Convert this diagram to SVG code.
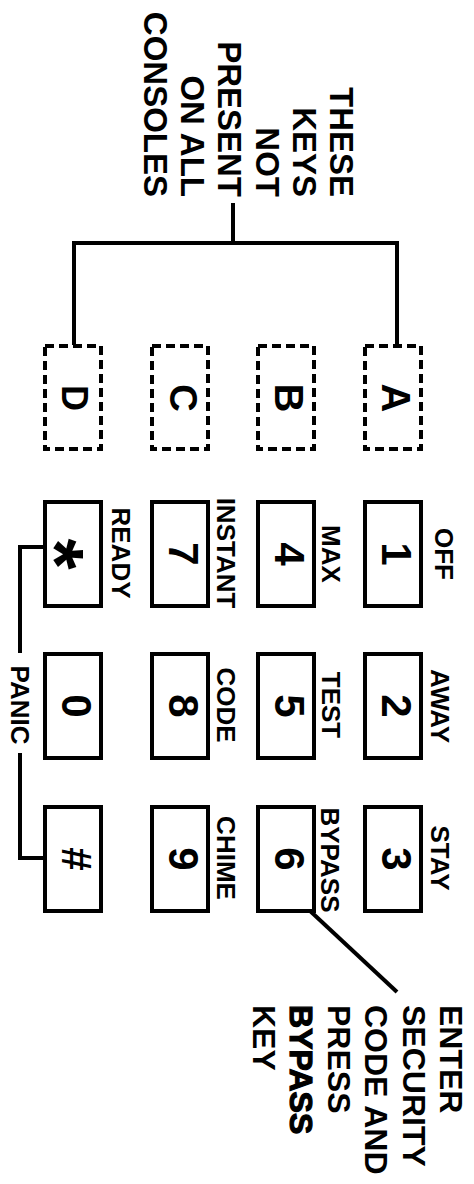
<svg xmlns="http://www.w3.org/2000/svg" width="474" height="1184" viewBox="0 0 474 1184">
<style>
text{font-family:"Liberation Sans",Arial,sans-serif;font-weight:bold;fill:#000}
.key{fill:#fff;stroke:#000;stroke-width:4}
.opt{fill:#fff;stroke:#000;stroke-width:4;stroke-dasharray:9 5}
.dig{font-size:42px;text-anchor:middle}
.lbl{font-size:26px;text-anchor:middle}
.ln{fill:none;stroke:#000;stroke-width:4}
</style>
<rect width="474" height="1184" fill="#fff"/>
<g id="connectors">
<path class="ln" d="M233,203 V243 M74,345 V243 H397 V345"/>
<path class="ln" d="M45,547 H20 V653 M20,753 V858 H45"/>
<text class="lbl" transform="translate(11,705) rotate(90)">PANIC</text>
<path class="ln" d="M293,895 L397,992"/>
</g>
<g id="note-top">
<text font-size="33" text-anchor="end" transform="translate(330,197) rotate(90)"><tspan x="0" y="0">THESE</tspan><tspan x="0" dy="37.2">KEYS</tspan><tspan x="0" dy="37.2">NOT</tspan><tspan x="0" dy="37.2">PRESENT</tspan><tspan x="0" dy="37.2">ON ALL</tspan><tspan x="0" dy="37.2">CONSOLES</tspan></text>
</g>
<g id="note-bottom">
<text font-size="32" transform="translate(440,1005) rotate(90)"><tspan x="0" y="0">ENTER</tspan><tspan x="0" dy="37.4">SECURITY</tspan><tspan x="0" dy="37.4">CODE AND</tspan><tspan x="0" dy="37.4">PRESS</tspan><tspan x="0" dy="37.4" style="font-weight:900;stroke:#000;stroke-width:1.2">BYPASS</tspan><tspan x="0" dy="37.4">KEY</tspan></text>
</g>
<g id="key-A"><rect class="opt" x="365" y="346" width="56" height="103"/><text class="dig" font-size="40" transform="translate(382,398) rotate(90)" style="font-size:40px">A</text></g>
<g id="key-B"><rect class="opt" x="258" y="346" width="56" height="103"/><text class="dig" transform="translate(275,398) rotate(90)" style="font-size:40px">B</text></g>
<g id="key-C"><rect class="opt" x="152" y="346" width="56" height="103"/><text class="dig" transform="translate(170,398) rotate(90)" style="font-size:38px">C</text></g>
<g id="key-D"><rect class="opt" x="45" y="346" width="56" height="103"/><text class="dig" transform="translate(62,398) rotate(90)" style="font-size:36px">D</text></g>

<g id="key-1"><rect class="key" x="365" y="502" width="56" height="104"/><text class="dig" transform="translate(382,554) rotate(90)">1</text><text class="lbl" transform="translate(435,554) rotate(90)">OFF</text></g>
<g id="key-2"><rect class="key" x="365" y="654" width="56" height="104"/><text class="dig" transform="translate(382,706) rotate(90)">2</text><text class="lbl" transform="translate(431,706) rotate(90)">AWAY</text></g>
<g id="key-3"><rect class="key" x="365" y="807" width="56" height="104"/><text class="dig" transform="translate(382,859) rotate(90)">3</text><text class="lbl" transform="translate(431,858) rotate(90)">STAY</text></g>
<g id="key-4"><rect class="key" x="258" y="502" width="56" height="104"/><text class="dig" transform="translate(275,554) rotate(90)">4</text><text class="lbl" transform="translate(322,554) rotate(90)">MAX</text></g>
<g id="key-5"><rect class="key" x="258" y="654" width="56" height="104"/><text class="dig" transform="translate(275,706) rotate(90)">5</text><text class="lbl" transform="translate(322,705) rotate(90)">TEST</text></g>
<g id="key-6"><rect class="key" x="258" y="807" width="56" height="104"/><text class="dig" transform="translate(275,859) rotate(90)">6</text><text class="lbl" transform="translate(321,860) rotate(90)">BYPASS</text></g>
<g id="key-7"><rect class="key" x="152" y="502" width="56" height="104"/><text class="dig" transform="translate(169,554) rotate(90)">7</text><text class="lbl" transform="translate(217,553) rotate(90)">INSTANT</text></g>
<g id="key-8"><rect class="key" x="152" y="654" width="56" height="104"/><text class="dig" transform="translate(169,706) rotate(90)">8</text><text class="lbl" transform="translate(217,705) rotate(90)">CODE</text></g>
<g id="key-9"><rect class="key" x="152" y="807" width="56" height="104"/><text class="dig" transform="translate(169,859) rotate(90)">9</text><text class="lbl" transform="translate(217,858) rotate(90)">CHIME</text></g>
<g id="key-star"><rect class="key" x="45" y="502" width="56" height="104"/><text class="dig" transform="translate(28,554) rotate(90)" style="font-size:80px">*</text><text class="lbl" transform="translate(112,553) rotate(90)">READY</text></g>
<g id="key-0"><rect class="key" x="45" y="654" width="56" height="104"/><text class="dig" transform="translate(62,706) rotate(90)">0</text></g>
<g id="key-hash"><rect class="key" x="45" y="807" width="56" height="104"/><text class="dig" transform="translate(62,859) rotate(90)">#</text></g>
</svg>
